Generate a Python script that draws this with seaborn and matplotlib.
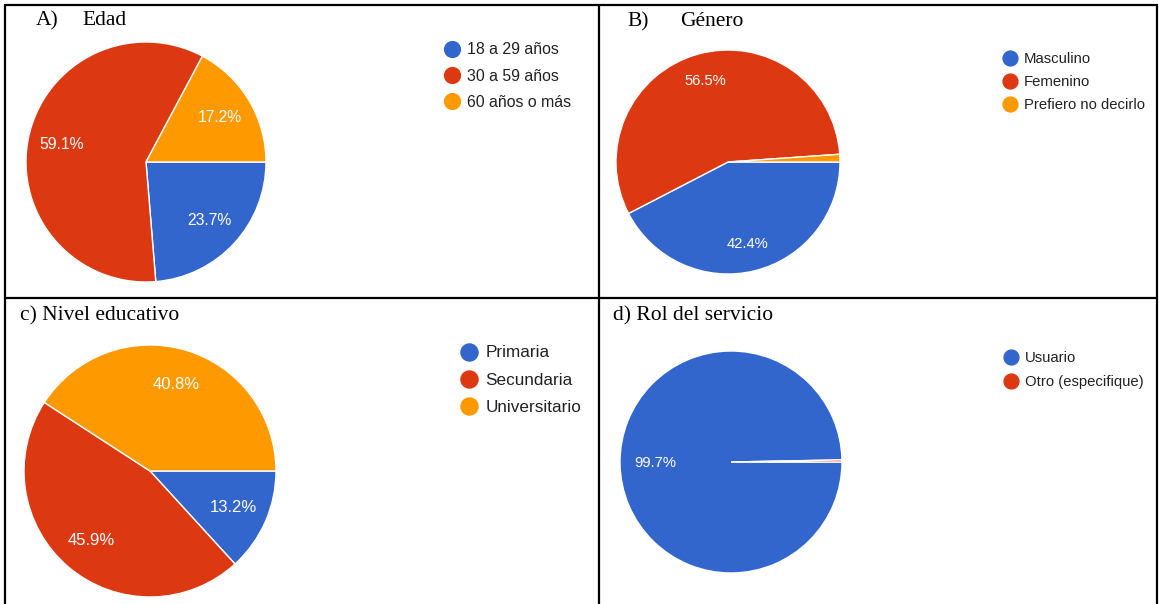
import numpy as np
import matplotlib
matplotlib.use("Agg")
import matplotlib.pyplot as plt
import seaborn as sns
from matplotlib.lines import Line2D

sns.set_theme(style="white")
plt.rcParams['font.family'] = ['Liberation Sans', 'DejaVu Sans']

COLORS = ["#3366CC", "#DC3912", "#FF9900"]

edad_labels = ["18 a 29 años", "30 a 59 años", "60 años o más"]
edad_values = [23.7, 59.1, 17.2]
genero_labels = ["Masculino", "Femenino", "Prefiero no decirlo"]
genero_values = [42.4, 56.5, 1.1]
nivel_labels = ["Primaria", "Secundaria", "Universitario"]
nivel_values = [13.2, 45.9, 40.8]
rol_labels = ["Usuario", "Otro (especifique)"]
rol_values = [99.7, 0.3]
title_tags = ["A)", "B)", "c)", "d)"]
title_names = ["Edad", "Género", "Nivel educativo", "Rol del servicio"]

W, H = 1159, 604
fig = plt.figure(figsize=(W / 100, H / 100), dpi=100)
fig.patch.set_facecolor("white")


def fx(x):
    return x / W


def fy(y):
    return 1 - y / H


panels = [
    dict(values=edad_values, labels=edad_labels, cx=146, cy=162, r=120, pd=0.72, lfs=11.3,
         leg=(443.8, 42.5), legfs=11.4, legsp=0.71, tag=(36, 25), name=(82, 25)),
    dict(values=genero_values, labels=genero_labels, cx=728, cy=162, r=112, pd=0.75, lfs=10.6,
         leg=(1002.5, 51.9), legfs=10.7, legsp=0.6, tag=(627, 26), name=(680, 26)),
    dict(values=nivel_values, labels=nivel_labels, cx=150, cy=471, r=126, pd=0.72, lfs=12,
         leg=(460.5, 345.5), legfs=12.3, legsp=0.73, tag=(20.5, 320), name=None),
    dict(values=rol_values, labels=rol_labels, cx=731, cy=462, r=111, pd=0.68, lfs=10.6,
         leg=(1003.5, 351.2), legfs=10.7, legsp=0.68, tag=(613, 320), name=None),
]

for i, p in enumerate(panels):
    cx, cy, r = p["cx"], p["cy"], p["r"]
    ax = fig.add_axes([fx(cx - r), fy(cy + r), 2 * r / W, 2 * r / H])
    wedges, _ = ax.pie(p["values"], colors=COLORS[:len(p["values"])], startangle=0,
                       counterclock=False,
                       wedgeprops=dict(edgecolor="white", linewidth=1.0))
    ax.set_xlim(-1, 1)
    ax.set_ylim(-1, 1)
    ax.set_aspect("equal")
    ax.axis("off")
    for w, v in zip(wedges, p["values"]):
        if v < 5:
            continue
        th = np.deg2rad((w.theta1 + w.theta2) / 2)
        ax.text(p["pd"] * np.cos(th), p["pd"] * np.sin(th), f"{v:.1f}%",
                ha="center", va="center", color="white", fontsize=p["lfs"])

    handles = [Line2D([0], [0], marker="o", linestyle="", markersize=p["legfs"] * 1.0,
                      markerfacecolor=c, markeredgecolor=c)
               for c in COLORS[:len(p["labels"])]]
    fig.legend(handles, p["labels"], loc="upper left",
               bbox_to_anchor=(fx(p["leg"][0]), fy(p["leg"][1])),
               frameon=False, fontsize=p["legfs"], handlelength=1.0,
               handletextpad=0.45, labelspacing=p["legsp"], borderpad=0,
               borderaxespad=0, labelcolor="#222222")

    # titles
    if p["name"] is not None:
        fig.text(fx(p["tag"][0]), fy(p["tag"][1]), title_tags[i], ha="left", va="baseline",
                 fontsize=15.5, family="Liberation Serif", color="black")
        fig.text(fx(p["name"][0]), fy(p["name"][1]), title_names[i], ha="left",
                 va="baseline", fontsize=15.5, family="Liberation Serif", color="black")
    else:
        fig.text(fx(p["tag"][0]), fy(p["tag"][1]), f"{title_tags[i]} {title_names[i]}",
                 ha="left", va="baseline", fontsize=15.5, family="Liberation Serif",
                 color="black")

# table borders
lw = 1.6
for (x0, y0, x1, y1) in [(5, 5, 1157, 5), (5, 298, 1157, 298), (5, 5, 5, 604),
                         (599, 5, 599, 604), (1157, 5, 1157, 604)]:
    fig.add_artist(Line2D([fx(x0), fx(x1)], [fy(y0), fy(y1)], color="black", linewidth=lw))

fig.savefig("out.png", dpi=100, facecolor="white")
